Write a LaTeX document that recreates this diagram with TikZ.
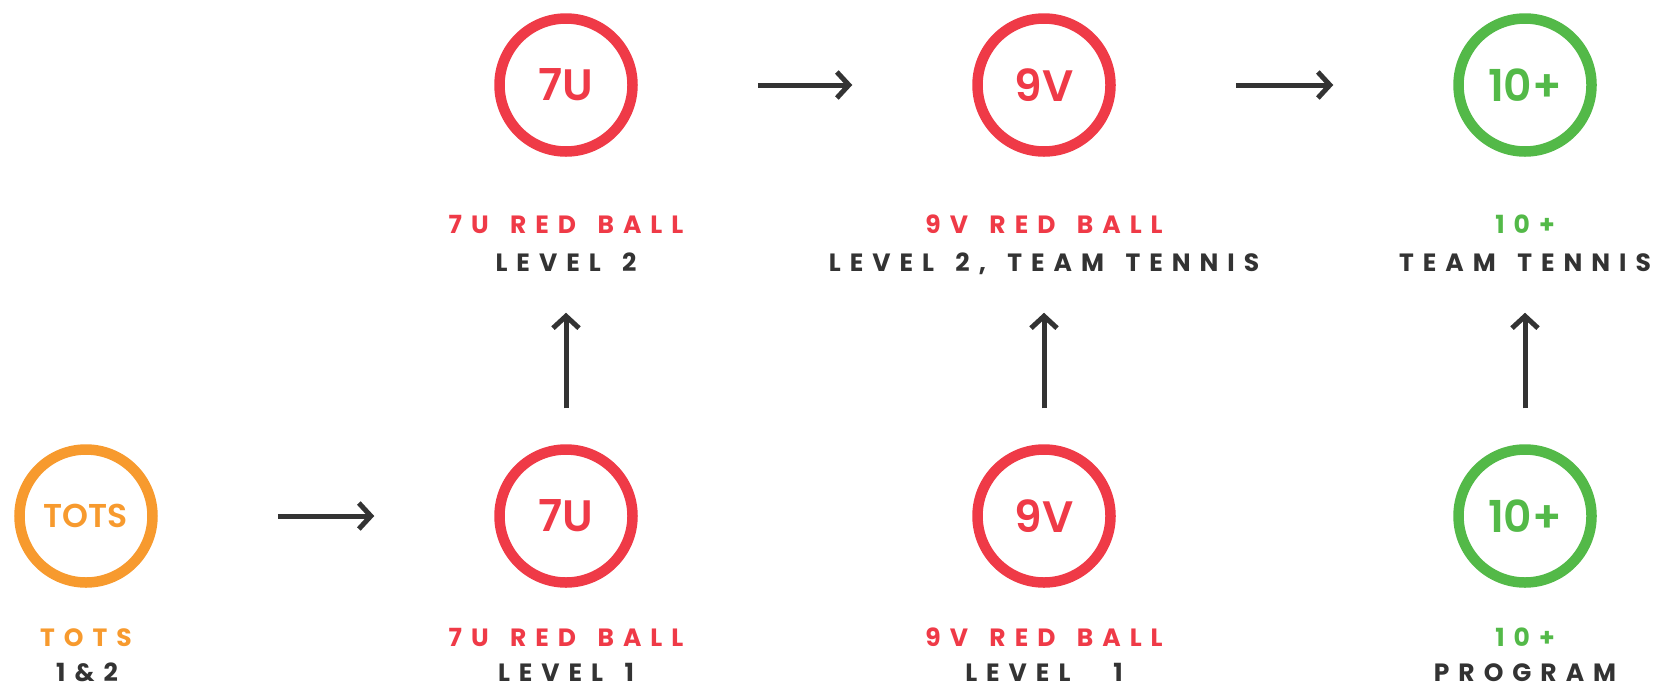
\documentclass[tikz,border=0pt]{standalone}
\usepackage{fontspec}
\setmainfont{Poppins}
\newfontfamily\labfont{Poppins}[LetterSpace=36, WordSpace=1.5]
\newfontfamily\ringfont{Poppins SemiBold}
\usetikzlibrary{arrows.meta}
\definecolor{ballred}{RGB}{239,58,71}
\definecolor{totsorange}{RGB}{247,154,46}
\definecolor{teengreen}{RGB}{83,185,72}
\definecolor{ink}{RGB}{51,51,51}
\begin{document}
\begin{tikzpicture}[x=1pt,y=1pt,
  ring/.style={circle, draw=#1, text=#1, line width=10.5pt, minimum size=133pt,
    inner sep=0pt, font=\ringfont\fontsize{44}{44}\selectfont},
  lvl/.style={anchor=base, text=#1, inner sep=0pt,
    font=\labfont\fontsize{25}{25}\selectfont\bfseries},
  flow/.style={draw=ink, line width=5pt, -{Straight Barb[length=12pt,width=26pt]}},
  across/.style={flow, shorten <=120pt, shorten >=120pt},
  upward/.style={flow, shorten <=36pt, shorten >=156pt}
]
\useasboundingbox (0,0) rectangle (1653,-686);

% rings, bottom row
\node[ring=totsorange, font=\ringfont\fontsize{33}{33}\selectfont] (tots) at (86,-516) {TOTS};
\node[ring=ballred] (sevenA) at (566,-516) {7U};
\node[ring=ballred] (nineA) at (1044,-516) {9V};
\node[ring=teengreen] (tenA) at (1525,-516) {10+};

% rings, top row
\node[ring=ballred] (sevenB) at (566,-85) {7U};
\node[ring=ballred] (nineB) at (1044,-85) {9V};
\node[ring=teengreen] (tenB) at (1525,-85) {10+};

% captions, bottom row
\node[lvl=totsorange] (totsT) at (86,-646) {TOTS};
\node[lvl=ink] (totsL) at (87,-681) {1\hspace{9pt}\&\hspace{9pt}2};
\node[lvl=ballred] (sevenAT) at (566,-646) {7U RED BALL};
\node[lvl=ink] (sevenAL) at (566,-681) {LEVEL 1};
\node[lvl=ballred] (nineAT) at (1044,-646) {9V RED BALL};
\node[lvl=ink] (nineAL) at (1044,-681) {LEVEL\ \ 1};
\node[lvl=teengreen] (tenAT) at (1525,-646) {10+};
\node[lvl=ink] (tenAL) at (1525,-681) {PROGRAM};

% captions, top row
\node[lvl=ballred] (sevenBT) at (566,-233) {7U RED BALL};
\node[lvl=ink] (sevenBL) at (566,-271) {LEVEL 2};
\node[lvl=ballred] (nineBT) at (1044,-233) {9V RED BALL};
\node[lvl=ink] (nineBL) at (1044,-271) {LEVEL 2, TEAM TENNIS};
\node[lvl=teengreen] (tenBT) at (1525,-233) {10+};
\node[lvl=ink] (tenBL) at (1525,-271) {TEAM TENNIS};

% progression arrows
\draw[across] (tots) -- (sevenA);
\draw[across] (sevenB) -- (nineB);
\draw[across] (nineB) -- (tenB);
\draw[upward] (sevenA) -- (sevenB);
\draw[upward] (nineA) -- (nineB);
\draw[upward] (tenA) -- (tenB);
\end{tikzpicture}
\end{document}
